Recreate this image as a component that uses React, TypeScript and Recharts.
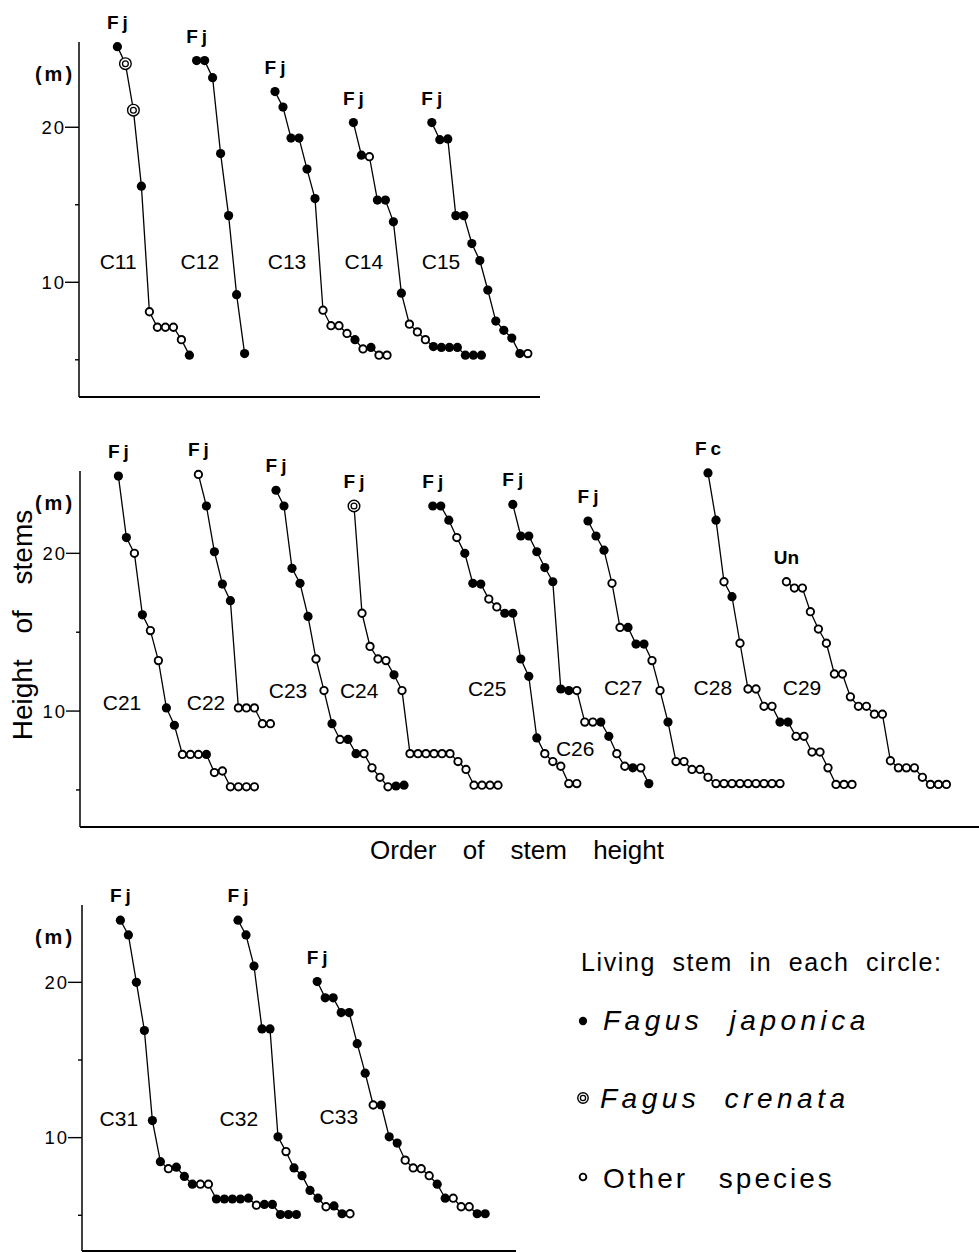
import React from 'react';
import { ScatterChart, Scatter, XAxis, YAxis, ReferenceDot } from 'recharts';

const FONT = '"Liberation Sans", Arial, Helvetica, sans-serif';

// Stem heights (m) per circle, tallest first.
// Kind codes: F = Fagus japonica, D = Fagus crenata, O = other species
const C11_H = [25.2, 24.1, 21.1, 16.2, 8.1, 7.1, 7.1, 7.1, 6.3, 5.3];
const C11_K = 'FDDFOOOOOF';
const C12_H = [24.3, 24.3, 23.2, 18.3, 14.3, 9.2, 5.4];
const C12_K = 'FFFFFFF';
const C13_H = [22.3, 21.3, 19.3, 19.3, 17.3, 15.4, 8.2, 7.2, 7.2, 6.7, 6.3, 5.7, 5.8, 5.3, 5.3];
const C13_K = 'FFFFFFOOOOFOFOO';
const C14_H = [20.3, 18.2, 18.1, 15.3, 15.3, 13.9, 9.3, 7.3, 6.8, 6.3, 5.85, 5.8, 5.8, 5.8, 5.3, 5.3, 5.3];
const C14_K = 'FFOFFFFOOOFFFFFFF';
const C15_H = [20.3, 19.2, 19.25, 14.3, 14.3, 12.5, 11.4, 9.5, 7.5, 6.9, 6.4, 5.4, 5.4];
const C15_K = 'FFFFFFFFFFFFO';

const C21_H = [24.9, 21.0, 20.0, 16.1, 15.1, 13.2, 10.2, 9.1, 7.25, 7.25, 7.25, 7.25, 6.1, 6.2, 5.2, 5.2, 5.2, 5.2];
const C21_K = 'FFOFOOFFOOOFOOOOOO';
const C22_H = [25.0, 23.0, 20.1, 18.05, 17.0, 10.2, 10.2, 10.2, 9.2, 9.2];
const C22_K = 'OFFFFOOOOO';
const C23_H = [24.0, 23.0, 19.05, 18.1, 16.0, 13.3, 11.3, 9.2, 8.2, 8.2, 7.3, 7.3, 6.4, 5.8, 5.2, 5.25, 5.3];
const C23_K = 'FFFFFOOFOFFOOOOFF';
const C24_H = [23.0, 16.2, 14.1, 13.3, 13.2, 12.3, 11.3, 7.3, 7.3, 7.3, 7.3, 7.3, 7.3, 6.8, 6.3, 5.3, 5.3, 5.3, 5.3];
const C24_K = 'DOOOOFOOOOOOOOOOOOO';
const C25_H = [23.0, 23.0, 22.1, 21.0, 20.0, 18.1, 18.05, 17.1, 16.6, 16.2, 16.2, 13.3, 12.2, 8.3, 7.3, 6.8, 6.5, 5.4, 5.4];
const C25_K = 'FFFOFFFOOFFFFFOOOOO';
const C26_H = [23.1, 21.1, 21.1, 20.1, 19.1, 18.2, 11.4, 11.3, 11.3, 9.3, 9.3, 9.3, 8.4, 7.3, 6.5, 6.4, 6.4, 5.4];
const C26_K = 'FFFFFFFFOOOFFOOFOF';
const C27_H = [22.05, 21.1, 20.2, 18.1, 15.3, 15.3, 14.25, 14.25, 13.2, 11.3, 9.3, 6.8, 6.8, 6.3, 6.3, 5.8, 5.4, 5.4, 5.4, 5.4, 5.4, 5.4, 5.4, 5.4, 5.4];
const C27_K = 'FFFOOFFFOOFOOOOOOOOOOOOOO';
const C28_H = [25.1, 22.1, 18.2, 17.25, 14.3, 11.4, 11.4, 10.3, 10.3, 9.3, 9.3, 8.4, 8.4, 7.4, 7.4, 6.4, 5.35, 5.35, 5.35];
const C28_K = 'FFOFOOOOOFFOOOOOOOO';
const C29_H = [18.2, 17.8, 17.8, 16.3, 15.2, 14.3, 12.35, 12.35, 10.9, 10.3, 10.3, 9.8, 9.8, 6.85, 6.4, 6.4, 6.4, 5.8, 5.35, 5.35, 5.35];
const C29_K = 'OOOOOOOOOOOOOOOOOOOOO';

const C31_H = [24.0, 23.05, 20.0, 16.9, 11.1, 8.45, 8.0, 8.1, 7.5, 7.0, 7.0, 7.0, 6.05, 6.05, 6.05, 6.05, 6.1, 5.65, 5.7, 5.7, 5.05, 5.05, 5.05];
const C31_K = 'FFFFFFOFFFOOFFFFFOFFFFF';
const C32_H = [24.0, 23.05, 21.05, 17.0, 17.0, 10.05, 9.1, 8.05, 7.55, 6.6, 6.1, 5.55, 5.6, 5.1, 5.1];
const C32_K = 'FFFFFFOFFFFOFFO';
const C33_H = [20.05, 19.0, 19.0, 18.05, 18.05, 16.05, 14.15, 12.1, 12.1, 10.05, 9.65, 8.55, 8.05, 8.0, 7.55, 7.0, 6.1, 6.1, 5.55, 5.55, 5.1, 5.1];
const C33_K = 'FFFFFFFOFFFOOOOFFOOOFF';

// order index where each circle's sequence begins (curves are shifted sideways)
const ROW1_START = [4.8, 14.7, 24.5, 34.3, 44.1];
const ROW2_START = [4.8, 14.8, 24.5, 34.25, 44.1, 54.1, 63.5, 78.5, 88.3];
const ROW3_START = [4.8, 19.5, 29.4];

// where the circle names sit, [order, m]
const ROW1_NAME_AT = [[4.9, 11.37], [15.1, 11.37], [26, 11.37], [35.6, 11.37], [45.25, 11.37]];
const ROW2_NAME_AT = [[5.25, 10.57], [15.75, 10.57], [26, 11.33], [34.9, 11.33], [50.9, 11.46], [61.9, 7.65], [67.9, 11.52], [79.1, 11.52], [90.25, 11.52]];
const ROW3_NAME_AT = [[4.6, 11.26], [19.6, 11.26], [32.1, 11.39]];

const Y_TICKS = [5, 10, 15, 20];

type Circle = { name: string; tag: string; start: number; h: number[]; k: string; at: number[] };

const ROW1: Circle[] = [
  { name: 'C11', tag: 'Fj', start: ROW1_START[0], h: C11_H, k: C11_K, at: ROW1_NAME_AT[0] },
  { name: 'C12', tag: 'Fj', start: ROW1_START[1], h: C12_H, k: C12_K, at: ROW1_NAME_AT[1] },
  { name: 'C13', tag: 'Fj', start: ROW1_START[2], h: C13_H, k: C13_K, at: ROW1_NAME_AT[2] },
  { name: 'C14', tag: 'Fj', start: ROW1_START[3], h: C14_H, k: C14_K, at: ROW1_NAME_AT[3] },
  { name: 'C15', tag: 'Fj', start: ROW1_START[4], h: C15_H, k: C15_K, at: ROW1_NAME_AT[4] },
];
const ROW2: Circle[] = [
  { name: 'C21', tag: 'Fj', start: ROW2_START[0], h: C21_H, k: C21_K, at: ROW2_NAME_AT[0] },
  { name: 'C22', tag: 'Fj', start: ROW2_START[1], h: C22_H, k: C22_K, at: ROW2_NAME_AT[1] },
  { name: 'C23', tag: 'Fj', start: ROW2_START[2], h: C23_H, k: C23_K, at: ROW2_NAME_AT[2] },
  { name: 'C24', tag: 'Fj', start: ROW2_START[3], h: C24_H, k: C24_K, at: ROW2_NAME_AT[3] },
  { name: 'C25', tag: 'Fj', start: ROW2_START[4], h: C25_H, k: C25_K, at: ROW2_NAME_AT[4] },
  { name: 'C26', tag: 'Fj', start: ROW2_START[5], h: C26_H, k: C26_K, at: ROW2_NAME_AT[5] },
  { name: 'C27', tag: 'Fj', start: ROW2_START[6], h: C27_H, k: C27_K, at: ROW2_NAME_AT[6] },
  { name: 'C28', tag: 'Fc', start: ROW2_START[7], h: C28_H, k: C28_K, at: ROW2_NAME_AT[7] },
  { name: 'C29', tag: 'Un', start: ROW2_START[8], h: C29_H, k: C29_K, at: ROW2_NAME_AT[8] },
];
const ROW3: Circle[] = [
  { name: 'C31', tag: 'Fj', start: ROW3_START[0], h: C31_H, k: C31_K, at: ROW3_NAME_AT[0] },
  { name: 'C32', tag: 'Fj', start: ROW3_START[1], h: C32_H, k: C32_K, at: ROW3_NAME_AT[1] },
  { name: 'C33', tag: 'Fj', start: ROW3_START[2], h: C33_H, k: C33_K, at: ROW3_NAME_AT[2] },
];

const toPoints = (c: Circle) => c.h.map((h, i) => ({ x: c.start + i, h, k: c.k[i] }));

function Marker({ cx, cy, kind, scale = 1 }: { cx: number; cy: number; kind: string; scale?: number }) {
  if (kind === 'F') return <circle cx={cx} cy={cy} r={4.6 * scale} fill="#000" />;
  if (kind === 'D')
    return (
      <g>
        <circle cx={cx} cy={cy} r={5.8 * scale} fill="#fff" stroke="#000" strokeWidth={1.4} />
        <circle cx={cx} cy={cy} r={2.9 * scale} fill="#fff" stroke="#000" strokeWidth={1.3} />
      </g>
    );
  return <circle cx={cx} cy={cy} r={3.7 * scale} fill="#fff" stroke="#000" strokeWidth={1.9} />;
}

const StemDot = (props: any) => {
  const { cx, cy, payload } = props;
  if (cx == null || cy == null) return <g />;
  return <Marker cx={cx} cy={cy} kind={payload.k} />;
};

const HeightTick = (props: any) => {
  const { x, y, payload } = props;
  const major = payload.value % 10 === 0;
  return (
    <g>
      <line x1={x - (major ? 14 : 4)} x2={x} y1={y} y2={y} stroke="#000" strokeWidth={1.4} />
      {major && (
        <text x={x - 13} y={y + 6.5} textAnchor="end" fontSize={18.5} letterSpacing={2} fontFamily={FONT} fill="#000">
          {payload.value}
        </text>
      )}
    </g>
  );
};

const tagShape = (tag: string) => (p: any) => (
  <text
    x={p.cx + (tag === 'Un' ? 0 : 2)}
    y={p.cy - 18}
    textAnchor="middle"
    fontSize={19}
    fontWeight="bold"
    letterSpacing={tag === 'Un' ? 0 : 4}
    fontFamily={FONT}
    fill="#000"
  >
    {tag}
  </text>
);

const nameShape = (name: string) => (p: any) => (
  <text x={p.cx} y={p.cy + 7.5} textAnchor="middle" fontSize={21} fontFamily={FONT} fill="#000">
    {name}
  </text>
);

type PanelCfg = {
  top: number;
  width: number;
  height: number;
  right: number;
  bottom: number;
  axisW: number;
  xMax: number;
  yMin: number;
  yMax: number;
};

function Panel({ cfg, circles, showTitles }: { cfg: PanelCfg; circles: Circle[]; showTitles?: boolean }) {
  const yLabel = (p: any) => {
    const vb = p.viewBox || { x: 0, y: 40 };
    return (
      <g>
        <text x={vb.x + 55} y={vb.y + 39} textAnchor="middle" fontSize={20} fontWeight="bold" letterSpacing={3} fontFamily={FONT} fill="#000">
          (m)
        </text>
        {showTitles && (
          <text
            x={32}
            y={vb.y + 154}
            transform={`rotate(-90, 32, ${vb.y + 154})`}
            textAnchor="middle"
            fontSize={28}
            wordSpacing={18}
            fontFamily={FONT}
            fill="#000"
          >
            Height of stems
          </text>
        )}
      </g>
    );
  };
  const xLabel = (p: any) => {
    if (!showTitles) return null;
    const vb = p.viewBox || { y: 0 };
    return (
      <text x={517} y={vb.y + 32} textAnchor="middle" fontSize={26} wordSpacing={19} fontFamily={FONT} fill="#000">
        Order of stem height
      </text>
    );
  };
  return (
    <div style={{ position: 'absolute', left: 0, top: cfg.top }}>
      <ScatterChart
        width={cfg.width}
        height={cfg.height}
        margin={{ top: 40, right: cfg.right, bottom: cfg.bottom, left: 0 }}
      >
        <XAxis
          type="number"
          dataKey="x"
          domain={[0, cfg.xMax]}
          tick={false}
          tickLine={false}
          height={1}
          axisLine={{ stroke: '#000', strokeWidth: 2 }}
          label={xLabel}
        />
        <YAxis
          type="number"
          dataKey="h"
          domain={[cfg.yMin, cfg.yMax]}
          ticks={Y_TICKS}
          interval={0}
          tickSize={0}
          tickMargin={0}
          tickLine={false}
          tick={HeightTick}
          width={cfg.axisW}
          axisLine={{ stroke: '#000', strokeWidth: 1.5 }}
          label={yLabel}
        />
        {circles.map((c) => (
          <Scatter
            key={c.name}
            name={c.name}
            data={toPoints(c)}
            line={{ stroke: '#000', strokeWidth: 1.3 }}
            shape={StemDot}
            isAnimationActive={false}
          />
        ))}
        {circles.map((c) => (
          <ReferenceDot key={c.name + '-tag'} x={c.start} y={c.h[0]} r={0} shape={tagShape(c.tag)} />
        ))}
        {circles.map((c) => (
          <ReferenceDot key={c.name + '-name'} x={c.at[0]} y={c.at[1]} r={0} shape={nameShape(c.name)} />
        ))}
      </ScatterChart>
    </div>
  );
}

const P1: PanelCfg = { top: 2, width: 550, height: 399, right: 10, bottom: 3, axisW: 79, xMax: 57.625, yMin: 2.6, yMax: 25.5 };
const P2: PanelCfg = { top: 431, width: 979, height: 437, right: 0, bottom: 40, axisW: 80, xMax: 112.375, yMin: 2.65, yMax: 25.22 };
const P3: PanelCfg = { top: 865, width: 979, height: 388, right: 463, bottom: 1, axisW: 82, xMax: 54.25, yMin: 2.7, yMax: 24.98 };

function SpeciesLegend() {
  return (
    <svg width={979} height={1253} style={{ position: 'absolute', left: 0, top: 0, pointerEvents: 'none' }}>
      <g fontFamily={FONT} fill="#000">
        <text x={581} y={971} fontSize={25} letterSpacing={1.6} wordSpacing={8}>
          Living stem in each circle:
        </text>
        <Marker cx={583} cy={1021} kind="F" scale={0.9} />
        <text x={603} y={1030} fontSize={28} fontStyle="italic" letterSpacing={4.5} wordSpacing={14}>
          Fagus japonica
        </text>
        <Marker cx={583} cy={1098} kind="D" scale={0.9} />
        <text x={600} y={1108} fontSize={28} fontStyle="italic" letterSpacing={4.5} wordSpacing={12}>
          Fagus crenata
        </text>
        <Marker cx={583} cy={1177} kind="O" scale={0.9} />
        <text x={603} y={1188} fontSize={28} letterSpacing={3} wordSpacing={20}>
          Other species
        </text>
      </g>
    </svg>
  );
}

export default function App() {
  return (
    <div
      style={{
        position: 'absolute',
        left: 0,
        top: 0,
        width: 979,
        height: 1253,
        background: '#fff',
        fontFamily: FONT,
      }}
    >
      <Panel cfg={P1} circles={ROW1} />
      <Panel cfg={P2} circles={ROW2} showTitles />
      <Panel cfg={P3} circles={ROW3} />
      <SpeciesLegend />
    </div>
  );
}
